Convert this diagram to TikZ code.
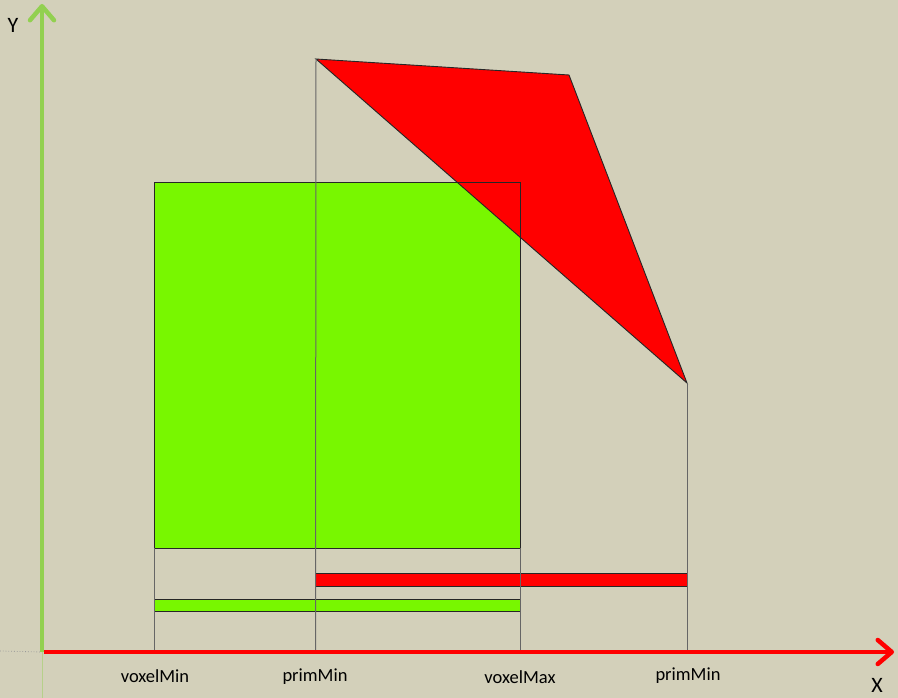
\documentclass[tikz,border=0pt]{standalone}
\usepackage{fontspec}
\setmainfont{Carlito}
\usetikzlibrary{arrows.meta}
\definecolor{bg}{RGB}{211,208,186}
\definecolor{axgreen}{RGB}{146,208,80}
\definecolor{boxgreen}{RGB}{120,247,0}
\definecolor{redfill}{RGB}{255,0,0}
\tikzset{
  guide/.style={draw=black!60, line width=1pt},
  outline/.style={draw=black!85, line width=0.9pt},
  axlabel/.style={font=\fontsize{18.5}{20}\selectfont, text=black, inner sep=0pt},
  axname/.style={font=\fontsize{22}{24}\selectfont, text=black, inner sep=0pt},
  axarrow/.style={line width=4.5pt, -{Straight Barb[length=14pt, width=24pt, line width=4.5pt, round]}}
}
\begin{document}
\begin{tikzpicture}[x=1pt,y=-1pt]
\fill[bg] (0,0) rectangle (898,698);
\useasboundingbox (0,0) rectangle (898,698);
% coordinates
\coordinate (o) at (42,652);
\coordinate (ytop) at (42,4);
\coordinate (xend) at (894,652);
\coordinate (t1) at (316,59);
\coordinate (t2) at (569,75);
\coordinate (t3) at (687,383);
\coordinate (vminb) at (154,650);
\coordinate (pminb) at (315.5,650);
\coordinate (vmaxb) at (520,650);
\coordinate (pmaxb) at (687,650);
% faint guides near origin
\draw[black!40, dotted, line width=0.8pt] (0,651) -- (o);
\draw[axgreen!45!bg, line width=1pt] (42,652) -- (42,698);
% fills
\fill[boxgreen] (154,182) rectangle (520,548);
\fill[redfill] (t1) -- (t2) -- (t3) -- cycle;
\fill[redfill] (315.5,573) rectangle (687,586);
\fill[boxgreen] (154,599) rectangle (520,611);
% outlines
\draw[outline] (154,182) rectangle (520,548);
\draw[outline] (t1) -- (t2) -- (t3) -- cycle;
\draw[outline] (315.5,573) rectangle (687,586);
\draw[outline] (154,599) rectangle (520,611);
% guides
\draw[guide] (154,548) -- (vminb);
\draw[guide] (t1) -- (pminb);
\draw[guide] (520,548) -- (vmaxb);
\draw[guide] (t3) -- (pmaxb);
% axes
\draw[axarrow, draw=axgreen] (42,652) -- (ytop);
\draw[axarrow, draw=redfill] (44,652) -- (xend);
% labels
\node[axname] (ylab) at (13,25) {Y};
\node[axname] (xlab) at (877,685) {X};
\node[axlabel] (l1) at (155,676) {voxelMin};
\node[axlabel] (l2) at (315,677) {primMin};
\node[axlabel] (l3) at (520,677) {voxelMax};
\node[axlabel] (l4) at (688,676) {primMin};
\end{tikzpicture}
\end{document}
